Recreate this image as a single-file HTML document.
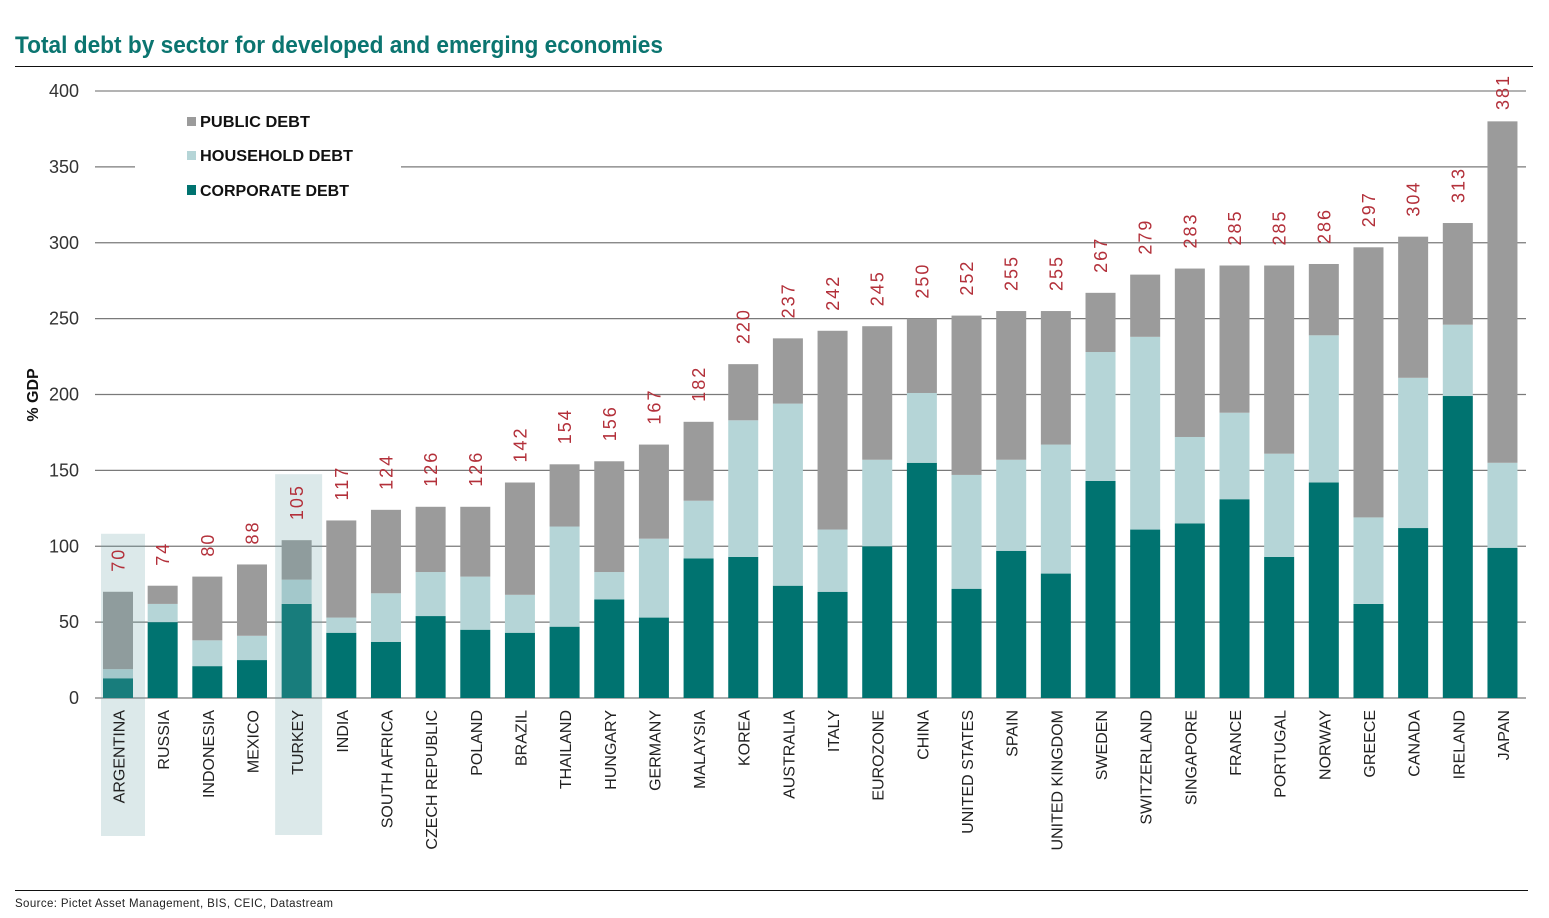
<!DOCTYPE html>
<html lang="en">
<head>
<meta charset="utf-8">
<title>Total debt by sector for developed and emerging economies</title>
<style>
html,body{margin:0;padding:0;background:#fff;}
svg{display:block;font-family:"Liberation Sans",sans-serif;}
</style>
</head>
<body>
<svg id="chart" width="1549" height="918" viewBox="0 0 1549 918" xmlns="http://www.w3.org/2000/svg">
  <text x="15" y="53" font-size="24.5" font-weight="700" fill="#0b7570" textLength="648" lengthAdjust="spacingAndGlyphs">Total debt by sector for developed and emerging economies</text>
  <rect x="15" y="66" width="1518" height="1" fill="#111"/>
  <g id="grid"></g>
  <g id="yticks"></g>
  <text transform="translate(38,395) rotate(-90)" text-anchor="middle" font-size="16" font-weight="700" fill="#111">% GDP</text>
  <g id="bars"></g>
  <g id="highlights"></g>
  <g id="values"></g>
  <g id="xticks"></g>
  <g>
    <rect x="135" y="104" width="266" height="96" fill="#fff"/>
    <rect x="187" y="117" width="9" height="9" fill="#9b9b9b"/>
    <text x="200" y="127" font-size="16" font-weight="700" fill="#111" textLength="110" lengthAdjust="spacingAndGlyphs">PUBLIC DEBT</text>
    <rect x="187" y="151" width="9" height="9" fill="#b5d5d7"/>
    <text x="200" y="161" font-size="16" font-weight="700" fill="#111" textLength="153" lengthAdjust="spacingAndGlyphs">HOUSEHOLD DEBT</text>
    <rect x="187" y="185" width="9" height="10" fill="#007370"/>
    <text x="200" y="196" font-size="16" font-weight="700" fill="#111" textLength="149" lengthAdjust="spacingAndGlyphs">CORPORATE DEBT</text>
  </g>
  <rect x="15" y="890" width="1513" height="1" fill="#111"/>
  <text x="15" y="907" font-size="11.5" fill="#222" textLength="318" lengthAdjust="spacing">Source: Pictet Asset Management, BIS, CEIC, Datastream</text>
</svg>
<script>
const categories = ["ARGENTINA","RUSSIA","INDONESIA","MEXICO","TURKEY","INDIA","SOUTH AFRICA","CZECH REPUBLIC","POLAND","BRAZIL","THAILAND","HUNGARY","GERMANY","MALAYSIA","KOREA","AUSTRALIA","ITALY","EUROZONE","CHINA","UNITED STATES","SPAIN","UNITED KINGDOM","SWEDEN","SWITZERLAND","SINGAPORE","FRANCE","PORTUGAL","NORWAY","GREECE","CANADA","IRELAND","JAPAN"];
const corporateDebt = [13,50,21,25,62,43,37,54,45,43,47,65,53,92,93,74,70,100,155,72,97,82,143,111,115,131,93,142,62,112,199,99];
const householdDebt = [6,12,17,16,16,10,32,29,35,25,66,18,52,38,90,120,41,57,46,75,60,85,85,127,57,57,68,97,57,99,47,56];
const publicDebt = [51,12,42,47,26,64,55,43,46,74,41,73,62,52,37,43,131,88,49,105,98,88,39,41,111,97,124,47,178,93,67,225];
const totalLabels = [70,74,80,88,105,117,124,126,126,142,154,156,167,182,220,237,242,245,250,252,255,255,267,279,283,285,285,286,297,304,313,381];
const yTicks = [0,50,100,150,200,250,300,350,400];
const highlighted = ["ARGENTINA","TURKEY"];

const SVGNS = "http://www.w3.org/2000/svg";
const y0 = 698, yPerUnit = 1.5175, x0 = 118, step = 44.66, barWidth = 30;
const yScale = function (v) { return y0 - v * yPerUnit; };
const xScale = function (i) { return x0 + i * step; };
function make(tag, parent) {
  const el = document.createElementNS(SVGNS, tag);
  parent.appendChild(el);
  return el;
}

const grid = document.getElementById("grid");
const yticksG = document.getElementById("yticks");
yTicks.forEach(function (t) {
  const line = make("line", grid);
  
  
  line.setAttribute("x1", 95);
  line.setAttribute("x2", 1526);
  line.setAttribute("y1", yScale(t));
  line.setAttribute("y2", yScale(t));
  line.setAttribute("stroke", t === 400 ? "#9a9a9a" : "#7a7a7a");
  line.setAttribute("stroke-width", t === 400 ? 1.5 : 1.2);
  const label = make("text", yticksG);
  
  
  label.setAttribute("x", 79);
  label.setAttribute("y", yScale(t) + 6);
  label.setAttribute("text-anchor", "end");
  label.setAttribute("font-size", 18);
  label.setAttribute("fill", "#333");
  label.textContent = t;
});

const barsG = document.getElementById("bars");
const seriesList = [
  { values: corporateDebt, color: "#007370" },
  { values: householdDebt, color: "#b5d5d7" },
  { values: publicDebt, color: "#9b9b9b" }
];
categories.forEach(function (c, i) {
  let base = 0;
  seriesList.forEach(function (s) {
    const v = s.values[i];
    const r = make("rect", barsG);
    
    
    r.setAttribute("x", xScale(i) - barWidth / 2);
    r.setAttribute("y", yScale(base + v));
    r.setAttribute("width", barWidth);
    r.setAttribute("height", v * yPerUnit);
    r.setAttribute("fill", s.color);
    base += v;
  });
});

const highlightsG = document.getElementById("highlights");
highlighted.forEach(function (name) {
  const i = categories.indexOf(name);
  const isTurkey = name === "TURKEY";
  const top = yScale(corporateDebt[i] + householdDebt[i] + publicDebt[i]) - (isTurkey ? 66 : 58);
  const bottom = isTurkey ? 835 : 836;
  const r = make("rect", highlightsG);
  
  
  r.setAttribute("x", xScale(i) - (isTurkey ? 21.5 : 17));
  r.setAttribute("y", top);
  r.setAttribute("width", isTurkey ? 47 : 44);
  r.setAttribute("height", bottom - top);
  r.setAttribute("fill", "rgb(104,160,165)");
  r.setAttribute("fill-opacity", 0.23);
});

const valuesG = document.getElementById("values");
totalLabels.forEach(function (v, i) {
  const stackTop = yScale(corporateDebt[i] + householdDebt[i] + publicDebt[i]);
  const yPos = Math.max(110, stackTop - 20);
  const t = make("text", valuesG);
  
  
  t.setAttribute("transform", "translate(" + (xScale(i) + 6.5) + "," + yPos + ") rotate(-90)");
  t.setAttribute("font-size", 18);
  t.setAttribute("letter-spacing", 2);
  t.setAttribute("fill", "#b3303a");
  t.textContent = v;
});

const xticksG = document.getElementById("xticks");
categories.forEach(function (c, i) {
  const t = make("text", xticksG);
  
  
  t.setAttribute("transform", "translate(" + (xScale(i) + 6.5) + ",710) rotate(-90)");
  t.setAttribute("text-anchor", "end");
  t.setAttribute("font-size", 16);
  t.setAttribute("fill", "#222");
  t.textContent = c;
});
</script>
</body>
</html>
